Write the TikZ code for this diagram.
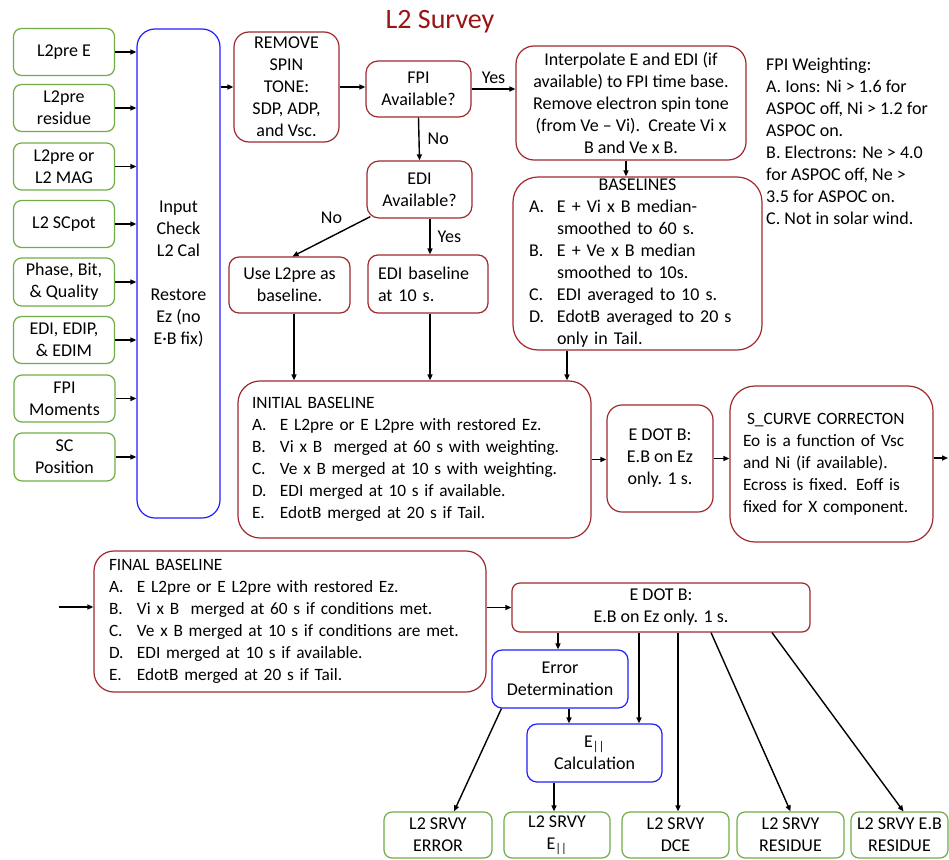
\documentclass[tikz,border=0pt]{standalone}
\usepackage{fontspec}
\setmainfont{Carlito}
\usetikzlibrary{arrows.meta,calc}
\definecolor{dred}{RGB}{160,40,45}
\definecolor{tred}{RGB}{153,20,20}
\definecolor{ogreen}{RGB}{112,173,71}
\definecolor{bblue}{RGB}{30,30,255}
\newcommand\mysz{\fontsize{18}{22}\selectfont}
\newcommand\mysm{\fontsize{17.3}{22}\selectfont}
\newcommand\li[1]{\makebox[28pt][l]{#1}}
\begin{document}
\begin{tikzpicture}[x=1pt,y=-1pt,
  every node/.style={font=\mysz},
  gbox/.style={draw=ogreen, line width=1.2pt, rounded corners=8pt, align=center, inner sep=0pt},
  rbox/.style={draw=dred, line width=1.2pt, rounded corners=#1, align=center, inner sep=0pt},
  rbox/.default=14pt,
  bbox/.style={draw=bblue, line width=1.2pt, rounded corners=#1, align=center, inner sep=0pt},
  bbox/.default=10pt,
  arr/.style={-{Triangle[length=6pt,width=5pt]}, line width=1.4pt},
  lbl/.style={inner sep=2pt}
]
\useasboundingbox (0,0) rectangle (949,859);

% title
\node[font=\fontsize{28}{32}\selectfont, text=tred] (title) at (440,22) {L2 Survey};

% inputs
\node[gbox, minimum width=101pt, minimum height=47pt] (g1) at (64,52) {L2pre E};
\node[gbox, minimum width=101pt, minimum height=47pt] (g2) at (64,108) {L2pre\\residue};
\node[gbox, minimum width=101pt, minimum height=47pt] (g3) at (64,166.5) {L2pre or\\L2 MAG};
\node[gbox, minimum width=101pt, minimum height=47pt] (g4) at (64,224) {L2 SCpot};
\node[gbox, minimum width=101pt, minimum height=48pt] (g5) at (64,282) {Phase, Bit,\\\& Quality};
\node[gbox, minimum width=101pt, minimum height=47pt] (g6) at (64,340) {EDI, EDIP,\\\& EDIM};
\node[gbox, minimum width=101pt, minimum height=47pt] (g7) at (64.5,398.5) {FPI\\Moments};
\node[gbox, minimum width=101pt, minimum height=48pt] (g8) at (64.5,457) {SC\\Position};

\node[bbox=18pt, minimum width=83pt, minimum height=489pt] (inp) at (178.5,273.5)
  {Input\\Check\\L2 Cal\\\mbox{}\\Restore\\Ez (no\\E·B fix)};

\foreach \g in {g1,g2,g3,g4,g5,g6,g7,g8}
  \draw[arr] (\g.east) -- (\g.east -| inp.west);

% top flow
\node[rbox=15pt, minimum width=105pt, minimum height=110pt] (rem) at (286.5,87)
  {REMOVE\\SPIN\\TONE:\\SDP, ADP,\\and Vsc.};
\node[rbox=12pt, minimum width=105pt, minimum height=56pt] (fpi) at (418.5,89) {FPI\\Available?};
\node[rbox=18pt, minimum width=230pt, minimum height=114pt] (interp) at (631,103)
  {Interpolate E and EDI (if\\available) to FPI time base.\\Remove electron spin tone\\(from Ve – Vi).\ \ Create Vi x\\B and Ve x B.};
\node[rbox=12pt, minimum width=105pt, minimum height=57pt] (edi) at (419.5,189.5) {EDI\\Available?};
\node[rbox=10pt, minimum width=121pt, minimum height=56pt] (use) at (289.5,285) {Use L2pre as\\baseline.};
\node[rbox=10pt, text width=100pt, inner xsep=10pt, minimum height=58pt, align=left] (edib) at (428,284)
  {EDI baseline\\at 10 s.};
\node[rbox=25pt, text width=217pt, inner xsep=16pt, minimum height=173pt, align=left] (basel) at (637.5,263.5)
  {\makebox[217pt][c]{BASELINES}\\
   \li{A.}E + Vi x B median-\\
   \li{}smoothed to 60 s.\\
   \li{B.}E + Ve x B median\\
   \li{}smoothed to 10s.\\
   \li{C.}EDI averaged to 10 s.\\
   \li{D.}EdotB averaged to 20 s\\
   \li{}only in Tail.};

\node[anchor=west, align=left, inner sep=0pt] (wt) at (766,141.5)
  {FPI Weighting:\\A. Ions: Ni > 1.6 for\\ASPOC off, Ni > 1.2 for\\ASPOC on.\\B. Electrons: Ne > 4.0\\for ASPOC off, Ne >\\3.5 for ASPOC on.\\C. Not in solar wind.};

\draw[arr] (inp.east |- rem.west) -- (rem.west);
\draw[arr] (rem.east) -- (rem.east -| fpi.west);
\draw[arr] (fpi.east) -- (fpi.east -| interp.west) node[lbl, midway, above=3pt] {Yes};
\draw[arr] (fpi.south) -- (edi.north) node[lbl, midway, right=6pt] {No};
\coordinate (noA) at ($(edi.south west)+(4,-2)$);
\coordinate (noB) at ($(use.north)+(3,0)$);
\draw[arr] (noA) -- (noB) node[lbl, midway, above=10pt] {No};
\coordinate (yesA) at ($(edi.south)+(10.5,0)$);
\draw[arr] (yesA) -- (yesA |- edib.north) node[lbl, midway, right=5pt] {Yes};
\coordinate (ipA) at ($(interp.south)+(-5,0)$);
\draw[arr] (ipA) -- (ipA |- basel.north);

% initial baseline row
\node[rbox=22pt, font=\mysm, text width=325pt, inner xsep=14pt, minimum height=157pt, align=left] (init) at (414.5,459.5)
  {INITIAL BASELINE\\
   \li{A.}E L2pre or E L2pre with restored Ez.\\
   \li{B.}Vi x B\ \ merged at 60 s with weighting.\\
   \li{C.}Ve x B merged at 10 s with weighting.\\
   \li{D.}EDI merged at 10 s if available.\\
   \li{E.}EdotB merged at 20 s if Tail.};
\coordinate (uA) at ($(use.south)+(4.5,0)$);
\draw[arr] (uA) -- (uA |- init.north);
\coordinate (eA) at ($(edib.south)+(2,0)$);
\draw[arr] (eA) -- (eA |- init.north);
\coordinate (bA) at ($(basel.south)+(-70.5,0)$);
\draw[arr] (bA) -- (bA |- init.north);

\node[rbox=15pt, minimum width=106pt, minimum height=107pt] (edb) at (660,458.5)
  {E DOT B:\\E.B on Ez\\only. 1 s.};
\node[rbox=25pt, font=\mysm, text width=177pt, inner xsep=13pt, minimum height=156pt, align=left] (scurve) at (831.5,464)
  {\hspace*{4pt}S\_CURVE CORRECTON\\Eo is a function of Vsc\\and Ni (if available).\\Ecross is fixed. Eoff is\\fixed for X component.};
\coordinate (rend) at (948,458);
\draw[arr] (init.east) -- (init.east -| edb.west);
\draw[arr] (edb.east) -- (edb.east -| scurve.west);
\draw[arr] (scurve.east |- rend) -- (rend);

% bottom
\coordinate (lstart) at (59,607);
\node[rbox=20pt, font=\mysm, text width=362pt, inner xsep=15pt, minimum height=141pt, align=left] (final) at (290,621.5)
  {FINAL BASELINE\\
   \li{A.}E L2pre or E L2pre with restored Ez.\\
   \li{B.}Vi x B\ \ merged at 60 s if conditions met.\\
   \li{C.}\mbox{Ve x B merged at 10 s if conditions are met.}\\
   \li{D.}EDI merged at 10 s if available.\\
   \li{E.}EdotB merged at 20 s if Tail.};
\draw[arr] (lstart) -- (lstart -| final.west);
\node[rbox=8pt, minimum width=298pt, minimum height=49pt] (edb2) at (661,607.5) {E DOT B:\\E.B on Ez only. 1 s.};
\draw[arr] (final.east |- edb2.west) -- (edb2.west);
\node[bbox=10pt, minimum width=136pt, minimum height=58pt] (err) at (560,679) {Error\\Determination};
\node[bbox=10pt, minimum width=135pt, minimum height=58pt] (ecalc) at (594.5,753) {E\textsubscript{||}\\Calculation};

\node[gbox, minimum width=108pt, minimum height=46pt] (o1) at (438,835) {L2 SRVY\\ERROR};
\node[gbox, minimum width=106pt, minimum height=46pt] (o2) at (557,835) {L2 SRVY\\E\textsubscript{||}};
\node[gbox, minimum width=107pt, minimum height=46pt] (o3) at (675.5,835) {L2 SRVY\\DCE};
\node[gbox, minimum width=107pt, minimum height=46pt] (o4) at (790.5,835) {L2 SRVY\\RESIDUE};
\node[gbox, minimum width=97pt, minimum height=46pt] (o5) at (899.5,835) {L2 SRVY E.B\\RESIDUE};

\coordinate (d1) at ($(edb2.south)+(-103,0)$);
\draw[arr] (d1) -- (d1 |- err.north);
\coordinate (d2) at ($(err.south)+(9,0)$);
\draw[arr] (d2) -- (d2 |- ecalc.north);
\coordinate (d3) at ($(edb2.south)+(-22,0)$);
\draw[arr] (d3) -- (d3 |- ecalc.north);
\coordinate (d4) at ($(err.south west)+(10,0)$);
\draw[arr] (d4) -- ($(o1.north)+(16,0)$);
\coordinate (d5) at ($(ecalc.south)+(-40.5,0)$);
\draw[arr] (d5) -- (d5 |- o2.north);
\coordinate (d6) at ($(edb2.south)+(17,0)$);
\draw[arr] (d6) -- (d6 |- o3.north);
\coordinate (d7) at ($(edb2.south)+(50,0)$);
\draw[arr] (d7) -- (o4.north);
\coordinate (d8) at ($(edb2.south)+(111,0)$);
\draw[arr] (d8) -- ($(o5.north)+(4,0)$);
\end{tikzpicture}
\end{document}
